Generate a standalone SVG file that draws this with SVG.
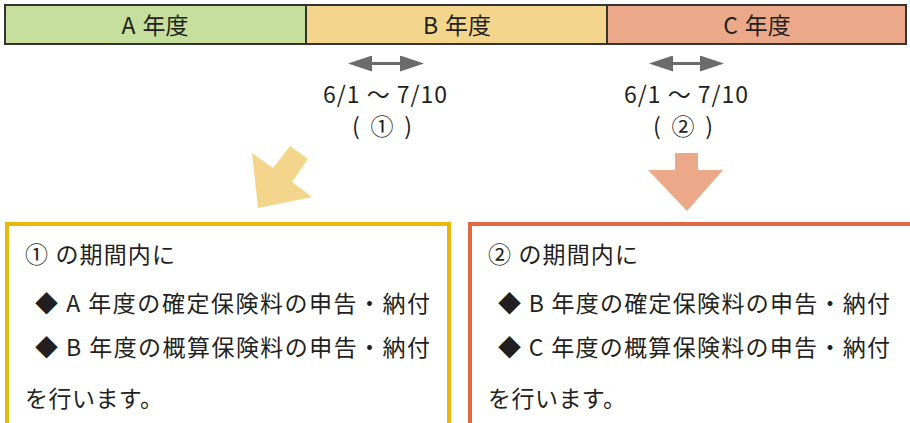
<svg xmlns="http://www.w3.org/2000/svg" width="910" height="423" viewBox="0 0 910 423">
<style>
text{font-family:"Noto Sans CJK JP","Noto Sans",sans-serif;fill:#231f20}
.hd{font-size:23px;text-anchor:middle}
.dt{font-size:23px;text-anchor:middle}
.bx{font-size:23px}
.cell{stroke:#333;stroke-width:2}
</style>
<defs>
<marker id="ah" viewBox="0 0 24 16" refX="0" refY="8" markerWidth="24" markerHeight="16" markerUnits="userSpaceOnUse" orient="auto-start-reverse">
<path d="M0,0 L24,8 L0,16 Z" fill="#6b6b6b"/>
</marker>
</defs>
<g id="year-a"><rect class="cell" x="5" y="5" width="301" height="39" fill="#c6df9c"/><text class="hd" x="155" y="34">A<tspan dx="7">年度</tspan></text></g>
<g id="year-b"><rect class="cell" x="306" y="5" width="301" height="39" fill="#f3d68c"/><text class="hd" x="457" y="34">B<tspan dx="7">年度</tspan></text></g>
<g id="year-c"><rect class="cell" x="607" y="5" width="299" height="39" fill="#eca98a"/><text class="hd" x="757" y="34">C<tspan dx="7">年度</tspan></text></g>
<g id="connectors">
<line x1="372" y1="63.5" x2="400" y2="63.5" stroke="#6b6b6b" stroke-width="3" marker-start="url(#ah)" marker-end="url(#ah)"/>
<line x1="673" y1="63.5" x2="700" y2="63.5" stroke="#6b6b6b" stroke-width="3" marker-start="url(#ah)" marker-end="url(#ah)"/>
<polygon points="258,208 252,153 273,168 290,146 308,159 292,182 312,197" fill="#f3d68c"/>
<polygon points="675,153 698,153 698,170 723,170 687,211 648,170 675,170" fill="#eca98a"/>
</g>
<g id="period-1"><text class="dt" x="385" y="103" textLength="124" lengthAdjust="spacing">6/1 〜 7/10</text><text class="dt" x="382" y="135" textLength="60" lengthAdjust="spacing">(  ①  )</text></g>
<g id="period-2"><text class="dt" x="686" y="103" textLength="124" lengthAdjust="spacing">6/1 〜 7/10</text><text class="dt" x="683" y="135" textLength="60" lengthAdjust="spacing">(  ②  )</text></g>
<g id="box-1">
<rect x="7" y="224" width="442" height="230" fill="#fff" stroke="#e8b80c" stroke-width="4"/>
<text class="bx" x="25" y="263" textLength="150" lengthAdjust="spacing">① の期間内に</text>
<text class="bx" x="35" y="312" textLength="395" lengthAdjust="spacing">◆ A 年度の確定保険料の申告・納付</text>
<text class="bx" x="35" y="356" textLength="395" lengthAdjust="spacing">◆ B 年度の概算保険料の申告・納付</text>
<text class="bx" x="25" y="407" textLength="138" lengthAdjust="spacing">を行います。</text>
</g>
<g id="box-2">
<rect x="470" y="224" width="460" height="230" fill="#fff" stroke="#e0693f" stroke-width="4"/>
<text class="bx" x="488" y="263" textLength="150" lengthAdjust="spacing">② の期間内に</text>
<text class="bx" x="498" y="312" textLength="392" lengthAdjust="spacing">◆ B 年度の確定保険料の申告・納付</text>
<text class="bx" x="498" y="356" textLength="392" lengthAdjust="spacing">◆ C 年度の概算保険料の申告・納付</text>
<text class="bx" x="488" y="407" textLength="138" lengthAdjust="spacing">を行います。</text>
</g>
</svg>
